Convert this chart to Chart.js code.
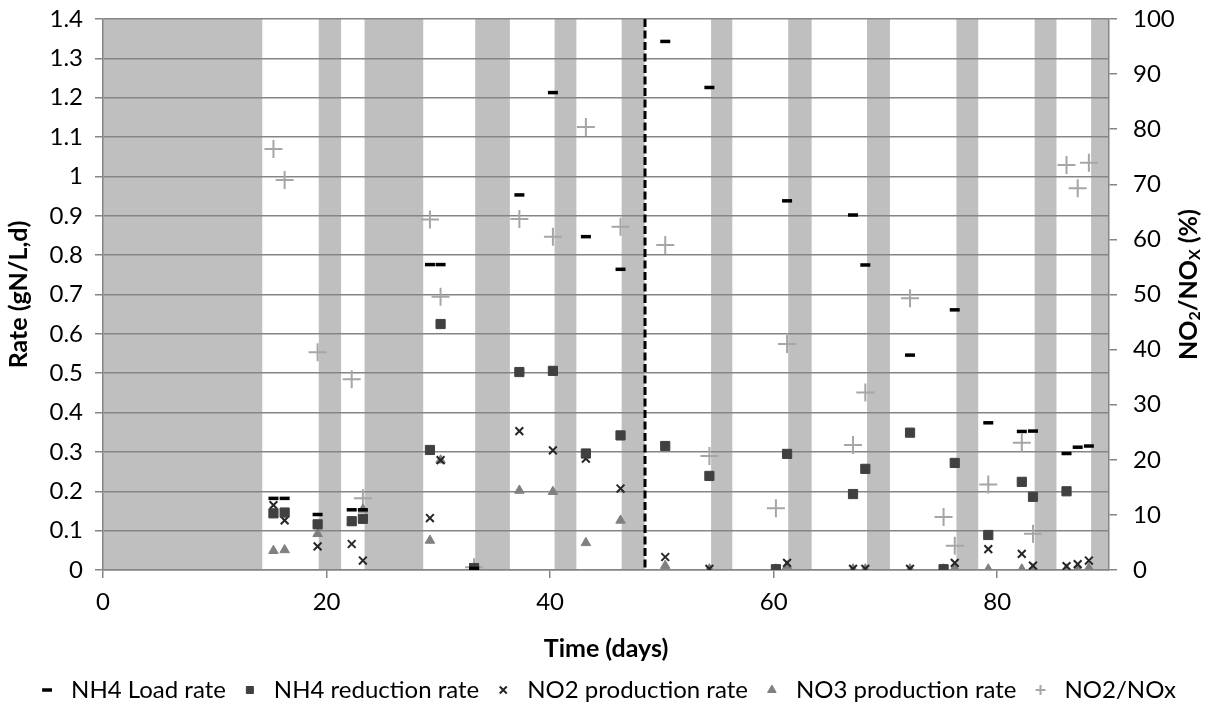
<!DOCTYPE html>
<html>
<head>
<meta charset="utf-8">
<script src="https://cdn.jsdelivr.net/npm/chart.js@4"></script>
<style>
html,body{margin:0;padding:0;background:#fff;}
#wrap{width:1211px;height:702px;position:relative;}
</style>
</head>
<body>
<div id="wrap"><canvas id="c"></canvas></div>
<script>
// ---- data ----
const days = [15.25, 16.25, 19.2, 22.25, 23.25, 29.25, 30.2, 33.2, 37.25, 40.25, 43.2, 46.3, 50.3, 54.25, 60.2, 61.2, 67.1, 68.2, 72.2, 75.2, 76.2, 79.2, 82.2, 83.2, 86.2, 87.2, 88.2];
const nh4LoadRate = [0.182, 0.182, 0.141, 0.153, 0.153, 0.776, 0.776, 0.004, 0.953, 1.213, 0.847, 0.764, 1.343, 1.226, null, 0.938, 0.902, 0.775, 0.546, null, 0.661, 0.374, 0.352, 0.353, 0.296, 0.312, 0.315];
const nh4ReductionRate = [0.144, 0.146, 0.116, 0.124, 0.130, 0.305, 0.625, 0.005, 0.503, 0.506, 0.296, 0.342, 0.315, 0.239, 0.002, 0.295, 0.193, 0.257, 0.349, 0.002, 0.272, 0.089, 0.224, 0.186, 0.200, null, null];
const no2ProductionRate = [0.165, 0.126, 0.060, 0.066, 0.024, 0.132, 0.279, 0.003, 0.353, 0.304, 0.283, 0.207, 0.033, 0.003, null, 0.018, 0.003, 0.003, 0.003, null, 0.018, 0.053, 0.041, 0.011, 0.010, 0.015, 0.024];
const no3ProductionRate = [0.049, 0.051, 0.092, 0.121, 0.154, 0.075, 0.279, 0.001, 0.202, 0.199, 0.069, 0.126, 0.011, 0.002, 0.002, 0.010, 0.002, 0.002, 0.002, 0.002, 0.005, 0.002, 0.002, 0.002, 0.002, 0.003, 0.005];
const no2NoxPercent = [76.4, 70.8, 39.5, 34.6, 13.0, 63.6, 49.6, 0.5, 63.7, 60.5, 80.4, 62.3, 59.0, 20.7, 11.2, 41.0, 22.7, 32.2, 49.3, 9.6, 4.4, 15.5, 23.1, 6.6, 73.5, 69.3, 73.9];
// shaded periods (days)
const shadedPeriods = [[0, 14.25], [19.3, 21.3], [23.4, 28.65], [33.3, 36.4], [40.4, 42.35], [46.4, 48.45], [54.4, 56.3], [61.3, 63.4], [68.35, 70.4], [76.35, 78.3], [83.35, 85.3], [88.4, 90]];
const phaseChangeDay = 48.5;
// tick labels
const xTicks = [0, 20, 40, 60, 80];
const yTicks = [0, 0.1, 0.2, 0.3, 0.4, 0.5, 0.6, 0.7, 0.8, 0.9, 1, 1.1, 1.2, 1.3, 1.4];
const y2Ticks = [0, 10, 20, 30, 40, 50, 60, 70, 80, 90, 100];

function pts(vals) {
  return days.map((d, i) => ({x: d, y: vals[i]})).filter(p => p.y !== null);
}

const FONT = 'Lato, "Open Sans", "DejaVu Sans", sans-serif';
const GRID = '#858585';

const shadePlugin = {
  id: 'shade',
  beforeDraw(chart) {
    const {ctx, chartArea: a, scales: {x}} = chart;
    ctx.save();
    ctx.fillStyle = '#bfbfbf';
    shadedPeriods.forEach(([s, e]) => {
      const x1 = x.getPixelForValue(s), x2 = x.getPixelForValue(e);
      ctx.fillRect(x1, a.top, x2 - x1, a.bottom - a.top);
    });
    ctx.restore();
  },
  beforeDatasetsDraw(chart) {
    const {ctx, chartArea: a, scales: {x}} = chart;
    const px = Math.round(x.getPixelForValue(phaseChangeDay));
    ctx.save();
    ctx.strokeStyle = '#000';
    ctx.lineWidth = 3;
    ctx.setLineDash([8, 3.5]);
    ctx.beginPath();
    ctx.moveTo(px, a.top);
    ctx.lineTo(px, a.bottom);
    ctx.stroke();
    ctx.restore();
  },
  afterDraw(chart) {
    // right axis title with subscripts, reading bottom to top
    const {ctx, chartArea: a} = chart;
    const cx = 1189, cy = (a.top + a.bottom) / 2 - 10;
    const big = 'bold 25px ' + FONT, small = 'bold 16px ' + FONT;
    const parts = [['NO', big, 0], ['2', small, 6], ['/NO', big, 0], ['X', small, 6], [' (%)', big, 0]];
    ctx.save();
    let total = 0;
    parts.forEach(p => { ctx.font = p[1]; total += ctx.measureText(p[0]).width; });
    ctx.translate(cx, cy);
    ctx.rotate(-Math.PI / 2);
    ctx.fillStyle = '#000';
    ctx.textBaseline = 'middle';
    let xx = -total / 2;
    parts.forEach(p => { ctx.font = p[1]; ctx.fillText(p[0], xx, p[2]); xx += ctx.measureText(p[0]).width; });
    ctx.restore();
  }
};

function fixVertical(width) {
  return s => { s.width = width; s.paddingTop = 0; s.paddingBottom = 0; };
}

new Chart(document.getElementById('c'), {
  type: 'scatter',
  data: {
    datasets: [
      {label: 'NH4 Load rate', data: pts(nh4LoadRate), pointStyle: 'line', pointRadius: 5, pointHoverRadius: 5,
       borderColor: '#000', backgroundColor: '#000', borderWidth: 3.5, yAxisID: 'y'},
      {label: 'NH4 reduction rate', data: pts(nh4ReductionRate), pointStyle: 'rect', pointRadius: 6.5,
       borderColor: '#404040', backgroundColor: '#404040', borderWidth: 1, yAxisID: 'y'},
      {label: 'NO2 production rate', data: pts(no2ProductionRate), pointStyle: 'crossRot', pointRadius: 5.5,
       borderColor: '#262626', backgroundColor: '#262626', borderWidth: 2, yAxisID: 'y'},
      {label: 'NO3 production rate', data: pts(no3ProductionRate), pointStyle: 'triangle', pointRadius: 5.5,
       borderColor: '#808080', backgroundColor: '#808080', borderWidth: 1, yAxisID: 'y'},
      {label: 'NO2/NOx', data: pts(no2NoxPercent), pointStyle: 'cross', pointRadius: 9,
       borderColor: '#a6a6a6', backgroundColor: '#a6a6a6', borderWidth: 2, yAxisID: 'y2'}
    ]
  },
  options: {
    responsive: true,
    maintainAspectRatio: false,
    animation: false,
    events: [],
    layout: {padding: {top: 19, left: 0, right: 0, bottom: -10}},
    plugins: {
      tooltip: {enabled: false},
      legend: {
        position: 'bottom',
        labels: {usePointStyle: true, boxHeight: 7, padding: 12, color: '#000',
                 font: {family: FONT, size: 24}}
      }
    },
    scales: {
      x: {
        type: 'linear', min: 0, max: 90,
        afterBuildTicks: s => { s.ticks = xTicks.map(v => ({value: v})); },
        afterFit: s => { s.height = 96; },
        ticks: {font: {family: FONT, size: 24}, color: '#000', padding: 10},
        grid: {drawOnChartArea: false, drawTicks: true, tickLength: 8, color: GRID, lineWidth: 1.5},
        border: {color: GRID, width: 1.5},
        title: {display: true, text: 'Time (days)', color: '#000', font: {family: FONT, size: 25, weight: 'bold'}, padding: {top: 4, bottom: 2}}
      },
      y: {
        position: 'left', min: 0, max: 1.4,
        afterBuildTicks: s => { s.ticks = yTicks.map(v => ({value: v})); },
        afterFit: fixVertical(103),
        ticks: {font: {family: FONT, size: 24}, color: '#000', padding: 12, callback: v => String(v)},
        grid: {color: GRID, lineWidth: 1.5, tickLength: 8},
        border: {color: GRID, width: 1.5},
        title: {display: true, text: 'Rate (gN/L,d)', color: '#000', font: {family: FONT, size: 25, weight: 'bold'}, padding: {top: 4, bottom: 0}}
      },
      y2: {
        position: 'right', min: 0, max: 100,
        afterBuildTicks: s => { s.ticks = y2Ticks.map(v => ({value: v})); },
        afterFit: fixVertical(102),
        ticks: {font: {family: FONT, size: 24}, color: '#000', padding: 16},
        grid: {drawOnChartArea: false, color: GRID, lineWidth: 1.5, tickLength: 8},
        border: {color: GRID, width: 1.5}
      }
    }
  },
  plugins: [shadePlugin]
});
</script>
</body>
</html>
